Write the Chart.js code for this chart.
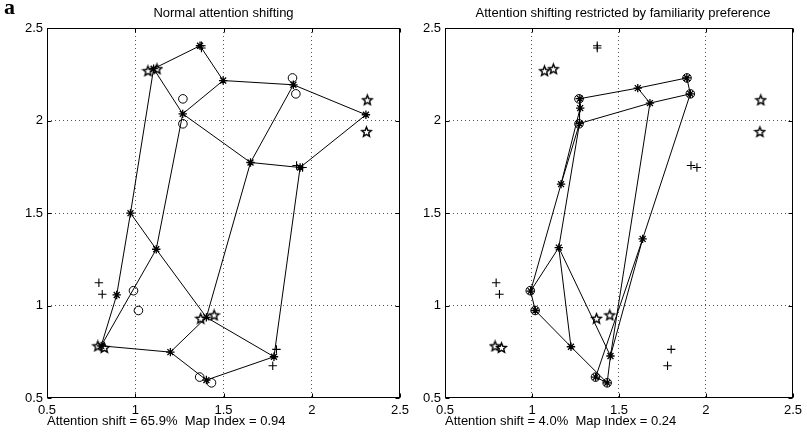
<!DOCTYPE html>
<html><head><meta charset="utf-8">
<script src="https://cdn.jsdelivr.net/npm/chart.js@4"></script>
<style>
html,body{margin:0;padding:0;background:#fff;}
#wrap{position:relative;width:807px;height:435px;overflow:hidden;background:#fff;}
canvas{position:absolute;top:0;}
#c1{left:0;}
#c2{left:405px;}
#lab{position:absolute;left:4px;top:-6px;font:bold 22px 'Liberation Serif','DejaVu Serif',serif;color:#000;}
</style></head><body>
<div id="wrap">
<canvas id="c1" width="420" height="435"></canvas>
<canvas id="c2" width="402" height="435"></canvas>
<div id="lab">a</div>
</div>
<script>
// ---- data ----
const xTicks = [0.5, 1, 1.5, 2, 2.5];
const yTicks = [0.5, 1, 1.5, 2, 2.5];
const titles = ['Normal attention shifting', 'Attention shifting restricted by familiarity preference'];
const notes = ['Attention shift = 65.9%  Map Index = 0.94', 'Attention shift = 4.0%  Map Index = 0.24'];
const gridSize = 4;

// map nodes, 4x4 lattice in row-major order
const leftNodeX  = [1.367, 1.498, 1.896, 2.307,  1.104, 1.269, 1.653, 1.934,  0.973, 1.119, 1.403, 1.786,  0.895, 0.807, 1.199, 1.403];
const leftNodeY  = [2.404, 2.216, 2.193, 2.031,  2.280, 2.036, 1.773, 1.746,  1.499, 1.304, 0.936, 0.723,  1.057, 0.782, 0.748, 0.597];
const rightNodeX = [1.890, 1.608, 1.275, 1.277,  1.910, 1.678, 1.273, 1.167,  1.636, 1.451, 1.154, 0.992,  1.366, 1.432, 1.224, 1.019];
const rightNodeY = [2.230, 2.175, 2.118, 2.067,  2.144, 2.094, 1.984, 1.656,  1.360, 0.727, 1.313, 1.078,  0.613, 0.582, 0.777, 0.973];

// stimuli (same in both panels)
const starX   = [1.072, 1.123, 2.315, 2.310, 0.788, 0.825, 1.371, 1.447];
const starY   = [2.269, 2.280, 2.112, 1.940, 0.782, 0.773, 0.931, 0.949];
const circleX = [1.270, 1.270, 1.891, 1.910, 0.990, 1.018, 1.365, 1.432];
const circleY = [2.117, 1.982, 2.230, 2.144, 1.080, 0.973, 0.613, 0.582];
const plusX   = [1.375, 1.375, 1.914, 1.948, 0.794, 0.813, 1.800, 1.779];
const plusY   = [2.404, 2.392, 1.757, 1.746, 1.123, 1.061, 0.763, 0.674];

// ---- helpers ----
const FONT = "'Liberation Sans', Arial, Helvetica, sans-serif";
function pts(xs, ys){ return xs.map((x,i)=>({x:x, y:ys[i]})); }

function pentagram(){
  const s = 13, c = document.createElement('canvas');
  c.width = s; c.height = s;
  const g = c.getContext('2d');
  const cx = s/2, cy = s/2 + 0.6, R = 5.2, r = 2.3;
  g.beginPath();
  for (let k = 0; k < 10; k++){
    const ang = -Math.PI/2 + k*Math.PI/5;
    const rad = (k % 2) ? r : R;
    const px = cx + rad*Math.cos(ang), py = cy + rad*Math.sin(ang);
    if (k) g.lineTo(px, py); else g.moveTo(px, py);
  }
  g.closePath();
  g.strokeStyle = '#000'; g.lineWidth = 1.4; g.stroke();
  return c;
}
const starImg = pentagram();

function lineDs(d){
  return {data:d, showLine:true, borderColor:'#000', borderWidth:1, pointRadius:0, fill:false, tension:0};
}
function latticeDatasets(xs, ys){
  const ds = [];
  for (let r = 0; r < gridSize; r++){
    const d = [];
    for (let c = 0; c < gridSize; c++){ const i = r*gridSize + c; d.push({x:xs[i], y:ys[i]}); }
    ds.push(lineDs(d));
  }
  for (let c = 0; c < gridSize; c++){
    const d = [];
    for (let r = 0; r < gridSize; r++){ const i = r*gridSize + c; d.push({x:xs[i], y:ys[i]}); }
    ds.push(lineDs(d));
  }
  return ds;
}
function markerDatasets(nx, ny){
  return [
    {data:pts(nx, ny), showLine:false, pointStyle:'star', pointRadius:4.2, borderColor:'#000', borderWidth:1.3, backgroundColor:'#000'},
    {data:pts(circleX, circleY), showLine:false, pointStyle:'circle', pointRadius:4.3, borderColor:'#000', borderWidth:1, backgroundColor:'rgba(0,0,0,0)'},
    {data:pts(plusX, plusY), showLine:false, pointStyle:'cross', pointRadius:4.2, borderColor:'#000', borderWidth:1.1},
    {data:pts(starX, starY), showLine:false, pointStyle:starImg, pointRadius:5, borderColor:'#000'}
  ];
}

const framePlugin = {
  id:'frame',
  afterDraw(chart, args, opts){
    const {ctx, chartArea:a, scales} = chart;
    ctx.save();
    ctx.strokeStyle = '#000'; ctx.lineWidth = 1;
    const L = Math.round(a.left)+0.5, R = Math.round(a.right)-0.5, T = Math.round(a.top)+0.5, B = Math.round(a.bottom)-0.5;
    ctx.strokeRect(L, T, R-L, B-T);
    ctx.beginPath();
    xTicks.forEach(v=>{
      const p = Math.round(scales.x.getPixelForValue(v))+0.5;
      ctx.moveTo(p, B); ctx.lineTo(p, B-4);
      ctx.moveTo(p, T); ctx.lineTo(p, T+4);
    });
    yTicks.forEach(v=>{
      const p = Math.round(scales.y.getPixelForValue(v))+0.5;
      ctx.moveTo(L, p); ctx.lineTo(L+4, p);
      ctx.moveTo(R, p); ctx.lineTo(R-4, p);
    });
    ctx.stroke();
    ctx.fillStyle = '#000';
    ctx.font = '13px ' + FONT;
    ctx.textBaseline = 'middle';
    ctx.textAlign = 'center';
    ctx.fillText(opts.title, (a.left + a.right)/2 + opts.titleShift, 13);
    ctx.textAlign = 'left';
    ctx.fillText(opts.note, a.left, 421);
    ctx.restore();
  }
};

function makeChart(id, nx, ny, yWidth, padRight, idx){
  const gridColor = c => (c.tick && (c.tick.value === 0.5 || c.tick.value === 2.5)) ? 'rgba(0,0,0,0)' : '#555';
  return new Chart(document.getElementById(id), {
    type:'scatter',
    data:{datasets: markerDatasets(nx, ny).concat(latticeDatasets(nx, ny))},
    options:{
      responsive:false, animation:false, devicePixelRatio:1,
      layout:{padding:{left:0, right:padRight, top:28, bottom:0}},
      plugins:{legend:{display:false}, tooltip:{enabled:false},
        frame:{title:titles[idx], note:notes[idx], titleShift: idx ? 4 : 0}},
      scales:{
        x:{type:'linear', min:0.5, max:2.5,
           afterBuildTicks: s => { s.ticks = xTicks.map(v=>({value:v})); },
           afterFit: s => { s.height = 37; },
           ticks:{color:'#000', font:{family:FONT, size:13}, padding:5, maxRotation:0, callback:v=>String(v)},
           grid:{drawTicks:false, color:gridColor, lineWidth:1},
           border:{display:false, dash:[1,3]}},
        y:{type:'linear', min:0.5, max:2.5,
           afterBuildTicks: s => { s.ticks = yTicks.map(v=>({value:v})); },
           afterFit: s => { s.width = yWidth; },
           ticks:{color:'#000', font:{family:FONT, size:13}, padding:4, callback:v=>String(v)},
           grid:{drawTicks:false, color:gridColor, lineWidth:1},
           border:{display:false, dash:[1,3]}}
      }
    },
    plugins:[framePlugin]
  });
}

makeChart('c1', leftNodeX, leftNodeY, 47, 20, 0);
makeChart('c2', rightNodeX, rightNodeY, 40, 10, 1);
</script>
</body></html>
